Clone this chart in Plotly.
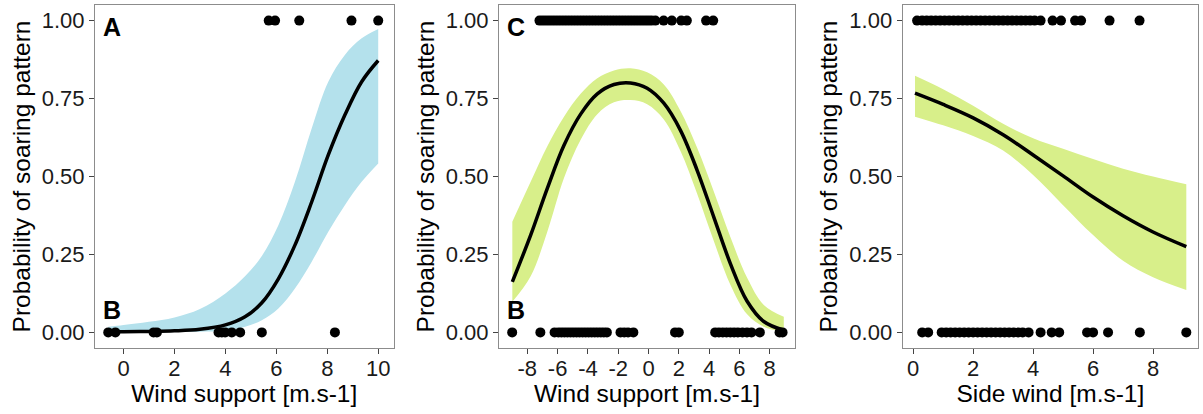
import plotly.graph_objects as go

# ---------------- Data ----------------
# Panel A : wind support (observations)
a_top_x = [5.7, 5.95, 6.9, 8.95, 10.0]
a_bot_x = [-0.6, -0.32, 1.18, 1.31, 3.73, 3.86, 3.99, 4.25, 4.58, 5.43, 8.3]
# Panel A : fitted curve and confidence band
a_fit_x = [-0.6, 0.0, 1.0, 2.0, 3.0, 4.0, 4.77, 5.43, 6.08, 6.73, 7.39, 8.04, 8.69, 9.35, 10.0]
a_fit_y = [0.002, 0.002, 0.003, 0.005, 0.01, 0.024, 0.05, 0.095, 0.172, 0.28, 0.419, 0.569, 0.697, 0.804, 0.872]
a_lo_y = [0.0, 0.0, 0.0, 0.001, 0.002, 0.006, 0.018, 0.039, 0.077, 0.141, 0.227, 0.323, 0.408, 0.483, 0.542]
a_hi_y = [0.018, 0.024, 0.034, 0.048, 0.075, 0.125, 0.18, 0.245, 0.344, 0.483, 0.655, 0.804, 0.89, 0.943, 0.973]

# Panel B : wind support, quadratic fit
b_top_x = [-7.2, -7.0, -6.8, -6.6, -6.4, -6.2, -6.0, -5.8, -5.6, -5.4, -5.2, -5.0,
           -4.8, -4.6, -4.4, -4.2, -4.0, -3.8, -3.6, -3.4, -3.2, -3.0, -2.8, -2.6,
           -2.4, -2.2, -2.0, -1.8, -1.6, -1.4, -1.2, -1.0, -0.8, -0.6, -0.4, -0.2,
           0.0, 0.2, 0.45, 1.0, 1.54, 2.16, 2.53, 3.8, 4.27]
b_bot_x = [-9.0, -7.14, -6.2, -5.95, -5.75, -5.55, -5.35, -5.15, -4.95, -4.75, -4.55,
           -4.35, -4.15, -3.95, -3.75, -3.55, -3.35, -3.15, -2.95, -2.75, -1.85, -1.6,
           -1.35, -1.0, 1.75, 2.0, 4.4, 4.65, 4.9, 5.15, 5.4, 5.65, 5.9, 6.2, 6.5,
           6.8, 7.35, 8.65, 8.85]
b_fit_x = [-8.99, -7.78, -6.68, -5.58, -4.48, -3.38, -2.28, -1.19, -0.09, 1.01, 2.11,
           3.21, 4.31, 5.41, 6.51, 7.61, 8.93]
b_fit_y = [0.162, 0.312, 0.462, 0.600, 0.700, 0.765, 0.795, 0.800, 0.783, 0.735, 0.648,
           0.520, 0.370, 0.220, 0.100, 0.035, 0.007]
b_lo_y = [0.098, 0.180, 0.323, 0.495, 0.618, 0.700, 0.738, 0.745, 0.732, 0.683, 0.582,
          0.445, 0.293, 0.152, 0.058, 0.018, 0.002]
b_hi_y = [0.355, 0.483, 0.597, 0.692, 0.765, 0.815, 0.840, 0.847, 0.834, 0.795, 0.710,
          0.592, 0.452, 0.305, 0.175, 0.088, 0.05]

# Panel C : side wind
c_top_x = [0.13, 0.3, 0.45, 0.6, 0.75, 0.9, 1.05, 1.2, 1.35, 1.5, 1.65, 1.8, 1.95,
           2.1, 2.25, 2.4, 2.55, 2.7, 2.85, 3.0, 3.15, 3.3, 3.45, 3.6, 3.75, 3.9,
           4.05, 4.25, 4.65, 4.93, 5.4, 5.6, 6.55, 7.55]
c_bot_x = [0.3, 0.5, 0.95, 1.1, 1.25, 1.4, 1.55, 1.7, 1.85, 2.0, 2.15, 2.3, 2.45,
           2.6, 2.75, 2.9, 3.05, 3.2, 3.35, 3.5, 3.65, 3.85, 4.25, 4.62, 4.87,
           5.8, 6.0, 6.5, 7.56, 9.11]
c_fit_x = [0.06, 1.0, 2.0, 3.0, 4.0, 5.0, 6.0, 7.0, 8.0, 9.11]
c_fit_y = [0.767, 0.731, 0.688, 0.634, 0.569, 0.502, 0.434, 0.374, 0.322, 0.275]
c_lo_y = [0.692, 0.664, 0.630, 0.583, 0.505, 0.408, 0.312, 0.230, 0.177, 0.136]
c_hi_y = [0.823, 0.780, 0.727, 0.669, 0.623, 0.589, 0.556, 0.525, 0.500, 0.475]

y_ticks = [0, 0.25, 0.5, 0.75, 1.0]
y_ticklabels = ["0.00", "0.25", "0.50", "0.75", "1.00"]
a_xticks = [0, 2, 4, 6, 8, 10]
b_xticks = [-8, -6, -4, -2, 0, 2, 4, 6, 8]
c_xticks = [0, 2, 4, 6, 8]

x_titles = ["Wind support [m.s-1]", "Wind support [m.s-1]", "Side wind [m.s-1]"]
y_title = "Probability of soaring pattern"

BLUE = "#b4e1ec"
GREEN = "#d8ef8a"
FONT = "Liberation Sans, Arial, sans-serif"

fig = go.Figure()

panels = [
    ("x", "y", a_fit_x, a_fit_y, a_lo_y, a_hi_y, a_top_x, a_bot_x, BLUE),
    ("x2", "y2", b_fit_x, b_fit_y, b_lo_y, b_hi_y, b_top_x, b_bot_x, GREEN),
    ("x3", "y3", c_fit_x, c_fit_y, c_lo_y, c_hi_y, c_top_x, c_bot_x, GREEN),
]

for xa, ya, fx, fy, lo, hi, tx, bx, col in panels:
    fig.add_trace(go.Scatter(
        x=fx, y=lo, mode="lines", line=dict(width=0, color=col, shape="spline", smoothing=1.0),
        hoverinfo="skip", showlegend=False, xaxis=xa, yaxis=ya))
    fig.add_trace(go.Scatter(
        x=fx, y=hi, mode="lines", fill="tonexty", fillcolor=col,
        line=dict(width=0, color=col, shape="spline", smoothing=1.0),
        hoverinfo="skip", showlegend=False, xaxis=xa, yaxis=ya))
    fig.add_trace(go.Scatter(
        x=fx, y=fy, mode="lines", line=dict(color="black", width=3.5, shape="spline", smoothing=1.0),
        showlegend=False, xaxis=xa, yaxis=ya))
    fig.add_trace(go.Scatter(
        x=list(tx) + list(bx), y=[1.0] * len(tx) + [0.0] * len(bx), mode="markers",
        marker=dict(color="black", size=10), showlegend=False, xaxis=xa, yaxis=ya))

H = 414
W = 1203
ydom = [1 - 348 / H, 1 - 5 / H]
xdoms = [[95 / W, 393.5 / W], [499 / W, 795 / W], [902.7 / W, 1198 / W]]
xranges = [[-1.12, 10.6], [-9.87, 9.67], [-0.35, 9.5]]
xticks = [a_xticks, b_xticks, c_xticks]

common_axis = dict(
    showline=True, mirror=True, linecolor="#8c8c8c", linewidth=1.2,
    ticks="outside", ticklen=5, tickcolor="#444", tickwidth=1.2,
    showgrid=False, zeroline=False,
    tickfont=dict(family=FONT, size=22, color="#1a1a1a"),
)

layout = dict(
    width=W, height=H, margin=dict(l=0, r=0, t=0, b=0, autoexpand=False),
    plot_bgcolor="white", paper_bgcolor="white",
    font=dict(family=FONT, color="black"),
)
for i in range(3):
    sfx = "" if i == 0 else str(i + 1)
    layout["xaxis" + sfx] = dict(
        common_axis, domain=xdoms[i], range=xranges[i], anchor="y" + sfx,
        tickvals=xticks[i], ticktext=[str(v) for v in xticks[i]],
        ticklabelstandoff=-5,
        title=dict(text=x_titles[i], font=dict(family=FONT, size=24.5, color="black"), standoff=2),
    )
    layout["yaxis" + sfx] = dict(
        common_axis, domain=ydom, range=[-0.05, 1.05], anchor="x" + sfx,
        tickvals=y_ticks, ticktext=y_ticklabels,
        title=dict(text=y_title, font=dict(family=FONT, size=24.5, color="black"), standoff=4),
    )
fig.update_layout(**layout)

labels = [("x", "y", "A", 0.98), ("x", "y", "B", 0.072), ("x2", "y2", "C", 0.98), ("x2", "y2", "B", 0.072)]
for xa, ya, txt, yv in labels:
    fig.add_annotation(
        x=0.02, xref=xa + " domain", y=yv, yref=ya, text="<b>" + txt + "</b>",
        showarrow=False, xanchor="left", yanchor="middle",
        font=dict(family=FONT, size=25, color="black"))

fig.write_html("out.html", config={"displayModeBar": False},
               post_script="document.body.style.margin='0';document.body.style.overflow='hidden';")
